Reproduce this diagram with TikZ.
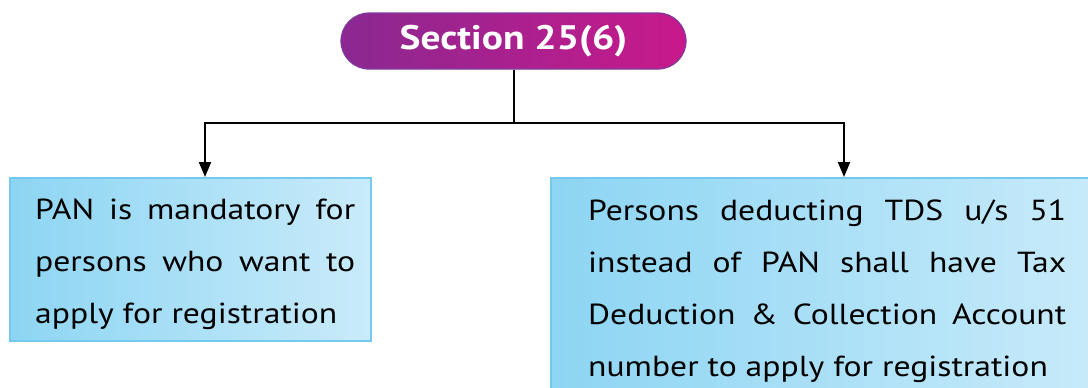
\documentclass[tikz,border=0pt]{standalone}
\usepackage{fontspec}
\setmainfont{PT Sans}[FakeStretch=1.16]
\usetikzlibrary{arrows.meta}
\definecolor{pillL}{HTML}{8B2891}
\definecolor{pillR}{HTML}{C8198B}
\definecolor{pillB}{HTML}{7E3A9C}
\definecolor{boxL}{HTML}{8DD5F3}
\definecolor{boxR}{HTML}{C9EBFA}
\definecolor{boxB}{HTML}{74C9EE}
\tikzset{
  pill/.style={draw=pillB, line width=1.2pt, rounded corners=28pt, left color=pillL, right color=pillR,
    minimum width=345pt, minimum height=56pt, inner sep=0pt, text=white,
    font=\fontsize{34}{40}\selectfont\bfseries},
  infobox/.style={draw=boxB, line width=2pt, left color=boxL, right color=boxR, inner sep=0pt},
  bodytext/.style={anchor=base west, inner sep=0pt, font=\fontsize{29}{52}\selectfont},
  arr/.style={line width=2pt, -{Triangle[length=15pt,width=12pt]}}
}
\begin{document}
\begin{tikzpicture}[x=1pt,y=-1pt]
\useasboundingbox (0,0) rectangle (1088,388);
\clip (0,0) rectangle (1088,388);
\node[pill] (title) at (513.5,41) {Section 25(6)};
\node[infobox, minimum width=361pt, minimum height=163pt] (left) at (190.5,259.5) {};
\node[infobox, minimum width=560pt, minimum height=230pt] (right) at (831,293) {};
\node[bodytext] (lt) at (35,219) {\parbox[t]{320pt}{\baselineskip=52pt
\makebox[320pt][s]{PAN is mandatory for}\\
\makebox[320pt][s]{persons who want to}\\
apply for registration}};
\node[bodytext] (rt) at (588,220) {\parbox[t]{478pt}{\baselineskip=52pt
\makebox[478pt][s]{Persons deducting TDS u/s 51}\\
\makebox[478pt][s]{instead of PAN shall have Tax}\\
\makebox[478pt][s]{Deduction \& Collection Account}\\
number to apply for registration}};
\draw[arr] (title.south) -- ++(0,53) -| ([xshift=196pt]left.north west);
\draw[arr] (title.south) -- ++(0,53) -| ([xshift=294pt]right.north west);
\end{tikzpicture}
\end{document}
